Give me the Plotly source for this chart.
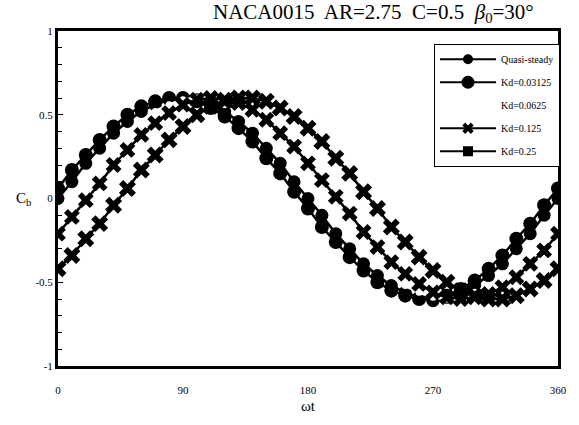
import plotly.graph_objects as go

# Phase angle (deg)
wt = [0, 10, 20, 30, 40, 50, 60, 70, 80, 90, 100, 110, 120, 130, 140, 150, 160, 170, 180,
      190, 200, 210, 220, 230, 240, 250, 260, 270, 280, 290, 300, 310, 320, 330, 340, 350, 360]

cb_quasi = [0.00, 0.10, 0.21, 0.30, 0.39, 0.46, 0.52, 0.56, 0.59, 0.60, 0.59, 0.56, 0.52, 0.46,
            0.39, 0.30, 0.21, 0.10, 0.00, -0.10, -0.21, -0.30, -0.39, -0.46, -0.52, -0.56, -0.59,
            -0.61, -0.59, -0.56, -0.52, -0.46, -0.39, -0.30, -0.21, -0.10, 0.00]
cb_k003125 = [0.06, 0.17, 0.26, 0.35, 0.43, 0.50, 0.55, 0.58, 0.60, 0.60, 0.58, 0.54, 0.49, 0.42,
              0.34, 0.24, 0.15, 0.04, -0.06, -0.17, -0.26, -0.35, -0.43, -0.50, -0.55, -0.58,
              -0.60, -0.60, -0.58, -0.54, -0.49, -0.42, -0.34, -0.24, -0.15, -0.04, 0.06]
cb_k00625 = [-0.10, 0.00, 0.10, 0.21, 0.30, 0.39, 0.46, 0.52, 0.56, 0.59, 0.60, 0.59, 0.56, 0.52,
             0.46, 0.39, 0.30, 0.21, 0.10, 0.00, -0.10, -0.21, -0.30, -0.39, -0.46, -0.52, -0.56,
             -0.59, -0.60, -0.59, -0.56, -0.52, -0.46, -0.39, -0.30, -0.21, -0.10]
cb_k0125 = [-0.21, -0.11, -0.01, 0.09, 0.20, 0.29, 0.38, 0.45, 0.51, 0.56, 0.59, 0.60, 0.59, 0.57,
            0.53, 0.47, 0.39, 0.31, 0.21, 0.11, 0.01, -0.09, -0.20, -0.29, -0.38, -0.45, -0.51,
            -0.56, -0.59, -0.60, -0.59, -0.57, -0.53, -0.47, -0.39, -0.31, -0.21]
cb_k025 = [-0.42, -0.34, -0.24, -0.15, -0.04, 0.06, 0.17, 0.26, 0.35, 0.43, 0.50, 0.55, 0.58, 0.60,
           0.60, 0.58, 0.54, 0.49, 0.42, 0.34, 0.24, 0.15, 0.04, -0.06, -0.17, -0.26, -0.35, -0.43,
           -0.50, -0.55, -0.58, -0.60, -0.60, -0.58, -0.54, -0.49, -0.42]

x_ticks = [0, 90, 180, 270, 360]
y_ticks = [-1, -0.5, 0, 0.5, 1]
y_tick_text = ["-1", "-0.5", "0", "0.5", "1"]

names = ["Quasi-steady", "Kd=0.03125", "Kd=0.0625", "Kd=0.125", "Kd=0.25"]

SERIF = "Liberation Serif, Times New Roman, serif"

fig = go.Figure()

# data traces (drawing order matters for the overlapping look)
fig.add_trace(go.Scatter(x=wt, y=cb_quasi, mode="lines+markers", showlegend=False,
                         line=dict(color="black", width=2.5),
                         marker=dict(symbol="circle", size=13, color="black")))
fig.add_trace(go.Scatter(x=wt, y=cb_k003125, mode="lines+markers", showlegend=False,
                         line=dict(color="black", width=2.5),
                         marker=dict(symbol="circle", size=14, color="black")))
fig.add_trace(go.Scatter(x=wt, y=cb_k00625, mode="lines+markers", showlegend=False,
                         line=dict(color="white", width=3),
                         marker=dict(symbol="circle", size=7, color="white")))
fig.add_trace(go.Scatter(x=wt, y=cb_k0125, mode="lines+markers", showlegend=False,
                         line=dict(color="black", width=2.5),
                         marker=dict(symbol="x", size=14, color="black")))
fig.add_trace(go.Scatter(x=wt, y=cb_k025, mode="lines+markers", showlegend=False,
                         line=dict(color="black", width=2.5),
                         marker=dict(symbol="x", size=15, color="black")))

# legend entries
leg_styles = [
    dict(line=dict(color="black", width=2), marker=dict(symbol="circle", size=10, color="black")),
    dict(line=dict(color="black", width=2), marker=dict(symbol="circle", size=13, color="black")),
    dict(line=dict(color="white", width=2), marker=dict(symbol="circle", size=8, color="white")),
    dict(line=dict(color="black", width=2), marker=dict(symbol="x", size=10, color="black")),
    dict(line=dict(color="black", width=2), marker=dict(symbol="square", size=10, color="black")),
]
for i, (nm, st) in enumerate(zip(names, leg_styles)):
    fig.add_trace(go.Scatter(x=[None], y=[None], mode="lines+markers", name=nm,
                             legendgroup=f"g{i}", **st))

fig.update_layout(
    width=579, height=425,
    margin=dict(l=58, r=12, t=31, b=53),
    paper_bgcolor="white", plot_bgcolor="white",
    font=dict(family=SERIF, color="black", size=10),
    legend=dict(x=0.752, y=0.962, xanchor="left", yanchor="top",
                bgcolor="white", bordercolor="black", borderwidth=1,
                font=dict(family=SERIF, size=10, color="black"),
                itemwidth=56, tracegroupgap=4),
    annotations=[
        dict(text="NACA0015  AR=2.75  C=0.5  <i>β</i><sub>0</sub>=30°", xref="paper", yref="paper",
             x=0.63, y=1.0, xanchor="center", yanchor="bottom", yshift=3, showarrow=False,
             font=dict(family=SERIF, size=21, color="black")),
        dict(text="C<sub>b</sub>", xref="paper", yref="paper", x=0, y=0.5,
             xanchor="center", yanchor="middle", xshift=-35, showarrow=False,
             font=dict(family=SERIF, size=15, color="black")),
    ],
)

fig.update_xaxes(range=[0, 360], tickvals=x_ticks, ticktext=[str(v) for v in x_ticks],
                 showgrid=False, zeroline=False, showline=True, linecolor="black", linewidth=3,
                 mirror=True, ticks="", ticklabelstandoff=12,
                 tickfont=dict(family=SERIF, size=11, color="black"),
                 title=dict(text="ωt", font=dict(family=SERIF, size=15, color="black"), standoff=6))
fig.update_yaxes(range=[-1, 1], tickvals=y_ticks, ticktext=y_tick_text,
                 showgrid=False, zeroline=False, showline=True, linecolor="black", linewidth=3,
                 mirror=True, ticks="inside", ticklen=5, tickwidth=1, tickcolor="black",
                 minor=dict(dtick=0.1, ticks="inside", ticklen=4, tickwidth=1, tickcolor="black"),
                 tickfont=dict(family=SERIF, size=11, color="black"))

fig.write_html("out.html")
